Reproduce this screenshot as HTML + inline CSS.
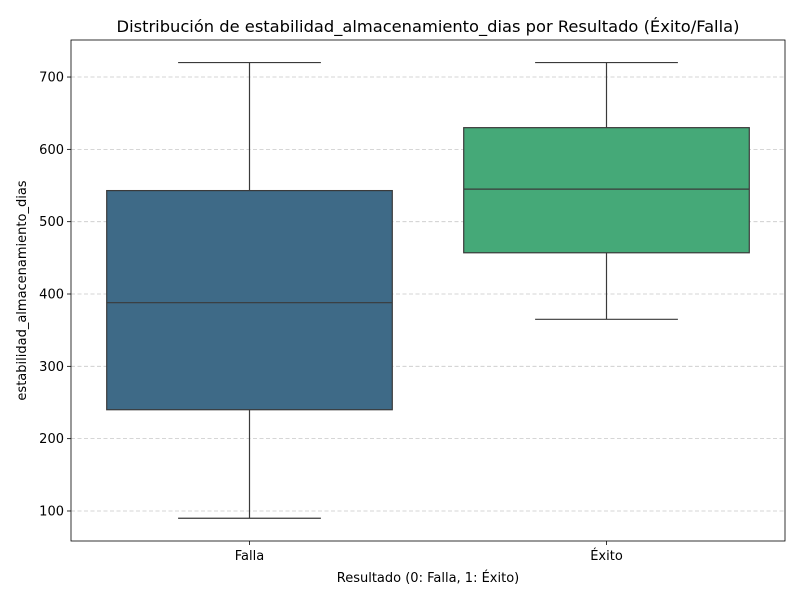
<!DOCTYPE html>
<html><head><meta charset="utf-8"><style>
body{margin:0;background:#fff;font-family:"DejaVu Sans","Liberation Sans",sans-serif;}
</style></head><body>
<svg id="chart" width="800" height="600" xmlns="http://www.w3.org/2000/svg" font-family="DejaVu Sans, Liberation Sans, sans-serif"></svg>
<script>
const categories = ["Falla", "Éxito"];
const whiskerLow = [90, 365];
const q1 = [240, 457];
const medians = [388, 545];
const q3 = [543, 630];
const whiskerHigh = [720, 720];
const yTicks = [100, 200, 300, 400, 500, 600, 700];
const colors = ["#3e6a87", "#45a978"];

const svg = document.getElementById('chart');
const NS = "http://www.w3.org/2000/svg";
const L = 71, R = 785, T = 40, B = 541;
const yMin = 58.5, yMax = 751.2;
const y = v => B - (v - yMin) / (yMax - yMin) * (B - T);
const bandW = (R - L) / categories.length;
const x = i => L + bandW * (i + 0.5);

function mk(tag, attrs, text) {
  const e = document.createElementNS(NS, tag);
  for (const k in attrs) e.setAttribute(k, attrs[k]);
  if (text !== undefined) e.textContent = text;
  svg.appendChild(e);
  return e;
}

yTicks.forEach(t => {
  const g = mk('line', {x1: L, x2: R, y1: y(t), y2: y(t), stroke: '#c8c8c8', 'stroke-dasharray': '4,2.5', 'stroke-width': 0.8});
  
  
  const tk = mk('line', {x1: L - 4, x2: L, y1: y(t), y2: y(t), stroke: '#000', 'stroke-width': 0.8});
  
  
  const lb = mk('text', {x: L - 7, y: y(t) + 4.5, 'text-anchor': 'end', 'font-size': 13}, t);
  
  
});

categories.forEach((c, i) => {
  const cx = x(i), hw = bandW * 0.4, cw = hw / 2;
  const w1 = mk('line', {x1: cx, x2: cx, y1: y(q3[i]), y2: y(whiskerHigh[i]), stroke: '#3a3a3a', 'stroke-width': 1.2});
  
  
  const w2 = mk('line', {x1: cx, x2: cx, y1: y(q1[i]), y2: y(whiskerLow[i]), stroke: '#3a3a3a', 'stroke-width': 1.2});
  
  
  const c1 = mk('line', {x1: cx - cw, x2: cx + cw, y1: y(whiskerHigh[i]), y2: y(whiskerHigh[i]), stroke: '#3a3a3a', 'stroke-width': 1.2});
  
  
  const c2 = mk('line', {x1: cx - cw, x2: cx + cw, y1: y(whiskerLow[i]), y2: y(whiskerLow[i]), stroke: '#3a3a3a', 'stroke-width': 1.2});
  
  
  const b = mk('rect', {x: cx - hw, y: y(q3[i]), width: 2 * hw, height: y(q1[i]) - y(q3[i]), fill: colors[i], stroke: '#3a3a3a', 'stroke-width': 1.2});
  
  
  const m = mk('line', {x1: cx - hw, x2: cx + hw, y1: y(medians[i]), y2: y(medians[i]), stroke: '#3a3a3a', 'stroke-width': 1.2});
  
  
  const tk = mk('line', {x1: cx, x2: cx, y1: B, y2: B + 4, stroke: '#000', 'stroke-width': 0.8});
  
  
  const lb = mk('text', {x: cx, y: B + 19, 'text-anchor': 'middle', 'font-size': 13}, c);
  
  
});

const frame = mk('rect', {x: L, y: T, width: R - L, height: B - T, fill: 'none', stroke: '#000', 'stroke-width': 0.8});


const title = mk('text', {x: (L + R) / 2, y: 32, 'text-anchor': 'middle', 'font-size': 16.3}, 'Distribución de estabilidad_almacenamiento_dias por Resultado (Éxito/Falla)');


const xt = mk('text', {x: (L + R) / 2, y: 582, 'text-anchor': 'middle', 'font-size': 13}, 'Resultado (0: Falla, 1: Éxito)');


const yt = mk('text', {x: 0, y: 0, 'text-anchor': 'middle', 'font-size': 13, transform: 'translate(26,' + (T + B) / 2 + ') rotate(-90)'}, 'estabilidad_almacenamiento_dias');


</script>
</body></html>
